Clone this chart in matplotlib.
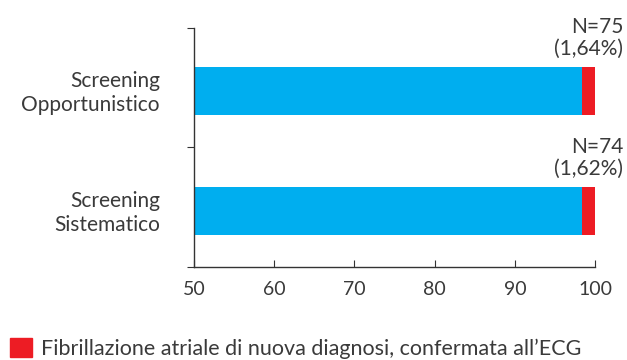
import matplotlib
matplotlib.use('Agg')
import matplotlib.pyplot as plt
from matplotlib.patches import Patch

plt.rcParams['font.family'] = ['Lato', 'DejaVu Sans']

categories = ['Screening\nSistematico', 'Screening\nOpportunistico']
fa_pct = [1.62, 1.64]
fa_n = [74, 75]
blue = '#00AEEF'
red = '#ED1C24'
txt = '#3a3a3a'

fig = plt.figure(figsize=(6.27, 3.6), dpi=100)
ax = fig.add_axes([0.3094, 0.2583, 0.6396, 0.6639])

y = list(range(len(categories)))
rest = [100 - p for p in fa_pct]
ax.barh(y, [r - 50 for r in rest], left=50, height=0.4, color=blue)
ax.barh(y, fa_pct, left=rest, height=0.4, color=red)

# N and percentage above the red segment
for yi, n, p in zip(y, fa_n, fa_pct):
    lab = 'N={}\n({}%)'.format(n, ('%.2f' % p).replace('.', ','))
    ax.text(103.5, yi + 0.44, lab, ha='right', va='center', fontsize=15,
            color=txt, linespacing=1.1, multialignment='right')

ax.set_xlim(50, 100)
ax.set_ylim(-0.467, 1.525)
ax.set_xticks([50, 60, 70, 80, 90, 100])
ax.set_yticks([-0.467, 0.533, 1.525])
ax.set_yticklabels([])
for yi, c in zip(y, categories):
    ax.text(-0.085, yi - 0.02, c, transform=ax.get_yaxis_transform(), ha='right', va='center',
            fontsize=15, color=txt, multialignment='right', linespacing=1.25)

ax.spines['top'].set_visible(False)
ax.spines['right'].set_visible(False)
for s in ('left', 'bottom'):
    ax.spines[s].set_color('#333333')
    ax.spines[s].set_linewidth(1.0)
ax.tick_params(axis='x', direction='in', length=5, color='#333333', labelsize=14,
               labelcolor=txt, pad=10)
ax.tick_params(axis='y', direction='out', length=5, color='#333333')

fig.legend(handles=[Patch(color=red)],
           labels=['Fibrillazione atriale di nuova diagnosi, confermata all\u2019ECG'],
           loc='lower left', bbox_to_anchor=(10 / 627, 1 / 360), frameon=False, fontsize=15.5,
           borderpad=0, borderaxespad=0,
           handlelength=1.0, handleheight=1.0, handletextpad=0.45, labelcolor=txt)

fig.savefig('out.png', dpi=100)
